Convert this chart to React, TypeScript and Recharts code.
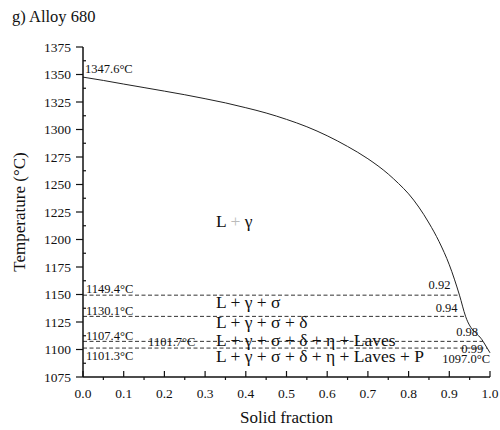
import React from 'react';
import { LineChart, Line, XAxis, YAxis, ReferenceLine, ReferenceDot } from 'recharts';

const solidFraction = [0, 0.05, 0.1, 0.15, 0.2, 0.25, 0.3, 0.35, 0.4, 0.45, 0.5, 0.55, 0.6, 0.65, 0.7, 0.75, 0.775, 0.8, 0.825, 0.85, 0.875, 0.9, 0.925, 0.94, 0.983, 0.993, 1.0];
const temperature = [1347.6, 1344.6, 1341.3, 1338.1, 1334.9, 1331.6, 1328, 1324.2, 1319.8, 1315, 1309.2, 1302.5, 1294.3, 1284.6, 1273.4, 1259.5, 1251, 1241.5, 1229.5, 1215, 1198, 1177, 1149.4, 1130.1, 1107.4, 1101.3, 1097.0];

const isoTemps = [1149.4, 1130.1, 1107.4, 1101.3];
const isoFractions = [0.925, 0.94, 0.983, 0.993];

const xTicks = [0, 0.05, 0.1, 0.15, 0.2, 0.25, 0.3, 0.35, 0.4, 0.45, 0.5, 0.55, 0.6, 0.65, 0.7, 0.75, 0.8, 0.85, 0.9, 0.95, 1.0];
const yTicks = [1075, 1087.5, 1100, 1112.5, 1125, 1137.5, 1150, 1162.5, 1175, 1187.5, 1200, 1212.5, 1225, 1237.5, 1250, 1262.5, 1275, 1287.5, 1300, 1312.5, 1325, 1337.5, 1350, 1362.5, 1375];

const phaseLabels = ['L + γ', 'L + γ + σ', 'L + γ + σ + δ', 'L + γ + σ + δ + η + Laves', 'L + γ + σ + δ + η + Laves + P'];
const phaseLabelTemps = [1211, 1137.5, 1119.4, 1103, 1088.4];
const phaseLabelFraction = 0.327;

const noteTexts = ['1347.6°C', '1149.4°C', '1130.1°C', '1107.4°C', '1101.7°C', '1101.3°C', '0.92', '0.94', '0.98', '0.99', '1097.0°C'];
const noteFractions = [0, 0, 0, 0, 0.16, 0, 0.925, 0.94, 0.983, 0.993, 1.0];
const noteTemps = [1347.6, 1149.4, 1130.1, 1107.4, 1107.4, 1101.3, 1149.4, 1130.1, 1107.4, 1101.3, 1097.0];
// styling offsets (px) and anchors for the notes
const noteStyle = [
  { dx: 2, dy: -4, anchor: 'start' },
  { dx: 3, dy: -2.5, anchor: 'start' },
  { dx: 3, dy: -1.5, anchor: 'start' },
  { dx: 3, dy: -1.5, anchor: 'start' },
  { dx: 0, dy: 4.5, anchor: 'start' },
  { dx: 3, dy: 12, anchor: 'start' },
  { dx: -9, dy: -6, anchor: 'end' },
  { dx: -8, dy: -4, anchor: 'end' },
  { dx: -5, dy: -5, anchor: 'end' },
  { dx: -4, dy: 5, anchor: 'end' },
  { dx: 0, dy: 10.5, anchor: 'end' },
];

const data = solidFraction.map((f, i) => ({ f, T: temperature[i] }));

const FONT = 'Liberation Serif, Times New Roman, DejaVu Serif, serif';
const INK = '#111';
const fontStyle = (size: number) => ({ fontFamily: FONT, fontSize: size });

const XTick = (props: any) => {
  const { x, y, payload } = props;
  const v = payload.value;
  const major = Math.abs(v * 10 - Math.round(v * 10)) < 1e-6;
  return (
    <g>
      <line x1={x} y1={y} x2={x} y2={major ? y - 6 : y + 3} stroke={INK} strokeWidth={1.2} />
      {major && (
        <text x={x} y={y + 21} textAnchor="middle" style={fontStyle(13.5)} fill={INK}>
          {v.toFixed(1)}
        </text>
      )}
    </g>
  );
};

const YTick = (props: any) => {
  const { x, y, payload } = props;
  const v = payload.value;
  const major = Math.abs(v / 25 - Math.round(v / 25)) < 1e-6;
  return (
    <g>
      <line x1={x} y1={y} x2={major ? x - 7 : x + 3} y2={y} stroke={INK} strokeWidth={1.2} />
      {major && (
        <text x={x - 12} y={y + 4.5} textAnchor="end" style={fontStyle(13.5)} fill={INK}>
          {v}
        </text>
      )}
    </g>
  );
};

const YTitle = (props: any) => {
  const vb = props.viewBox || {};
  const cy = (vb.y ?? 47) + (vb.height ?? 330) / 2;
  return (
    <text
      x={25}
      y={cy}
      transform={`rotate(-90 25 ${cy})`}
      textAnchor="middle"
      style={fontStyle(17)}
      fill={INK}
    >
      Temperature (°C)
    </text>
  );
};

const XTitle = (props: any) => {
  const vb = props.viewBox || {};
  const cx = (vb.x ?? 83) + (vb.width ?? 407) / 2;
  return (
    <text x={cx} y={423} textAnchor="middle" style={fontStyle(17)} fill={INK}>
      Solid fraction
    </text>
  );
};

const renderPhase = (label: string) => (p: any) => {
  if (label === 'L + γ') {
    return (
      <text x={p.cx} y={p.cy} style={fontStyle(17.5)} fill={INK}>
        L <tspan fill="#bbb">+</tspan> γ
      </text>
    );
  }
  return (
    <text x={p.cx} y={p.cy} style={fontStyle(17.5)} fill={INK}>
      {label}
    </text>
  );
};

const renderNote = (i: number) => (p: any) => (
  <text
    x={p.cx + noteStyle[i].dx}
    y={p.cy + noteStyle[i].dy}
    textAnchor={noteStyle[i].anchor as any}
    style={fontStyle(12.5)}
    fill={INK}
  >
    {noteTexts[i]}
  </text>
);

export default function App() {
  return (
    <div style={{ position: 'absolute', left: 0, top: 0, width: 500, height: 430, background: '#fff' }}>
      <svg style={{ position: 'absolute', left: 0, top: 0 }} width={500} height={30}>
        <text x={12} y={22} style={fontStyle(16.5)} fill={INK}>
          g) Alloy 680
        </text>
      </svg>
      <LineChart
        width={500}
        height={430}
        data={data}
        margin={{ top: 47, right: 10, bottom: 0, left: 0 }}
        style={{ position: 'absolute', left: 0, top: 0 }}
      >
        <XAxis
          type="number"
          dataKey="f"
          domain={[0, 1]}
          ticks={xTicks}
          interval={0}
          tickLine={false}
          tickSize={0}
          tickMargin={0}
          tick={<XTick />}
          height={53}
          axisLine={{ stroke: INK, strokeWidth: 1.5 }}
          label={{ content: <XTitle /> }}
        />
        <YAxis
          type="number"
          domain={[1075, 1375]}
          ticks={yTicks}
          interval={0}
          tickLine={false}
          tickSize={0}
          tickMargin={0}
          tick={<YTick />}
          width={83}
          axisLine={{ stroke: INK, strokeWidth: 1.5 }}
          label={{ content: <YTitle /> }}
        />
        {isoTemps.map((t, i) => (
          <ReferenceLine
            key={'iso' + i}
            segment={[{ x: 0, y: t }, { x: isoFractions[i], y: t }]}
            stroke="#333"
            strokeWidth={1}
            strokeDasharray="4 2.5"
          />
        ))}
        <Line
          type="monotone"
          dataKey="T"
          stroke="#222"
          strokeWidth={1}
          dot={false}
          isAnimationActive={false}
        />
        {phaseLabels.map((lab, i) => (
          <ReferenceDot
            key={'ph' + i}
            x={phaseLabelFraction}
            y={phaseLabelTemps[i]}
            r={0}
            ifOverflow="visible"
            shape={renderPhase(lab)}
          />
        ))}
        {noteTexts.map((_, i) => (
          <ReferenceDot
            key={'n' + i}
            x={noteFractions[i]}
            y={noteTemps[i]}
            r={0}
            ifOverflow="visible"
            shape={renderNote(i)}
          />
        ))}
      </LineChart>
    </div>
  );
}
